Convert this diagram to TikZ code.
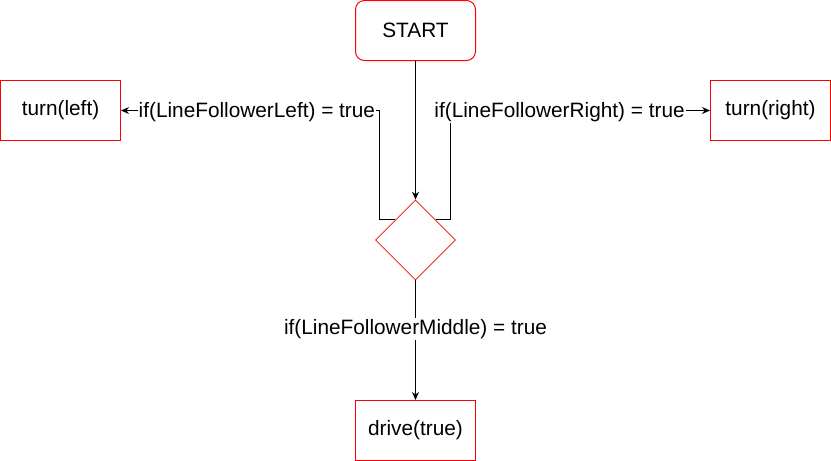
\documentclass[tikz,border=0pt]{standalone}
\usepackage{fontspec}
\setmainfont{Liberation Sans}
\usetikzlibrary{shapes.geometric,arrows.meta}

\begin{document}
\begin{tikzpicture}[x=1pt,y=-1pt,
    font=\fontsize{20.8}{24}\selectfont,
    box/.style={draw=red,line width=1pt,minimum width=120pt,minimum height=60pt,inner sep=0pt},
    cond/.style={draw=red,shape=diamond,line width=0.6pt,minimum width=80pt,minimum height=80pt,inner sep=0pt},
    lbl/.style={fill=white,inner sep=1pt,yshift=-2pt},
    >={Stealth[length=8pt,width=7pt]},line width=1pt]
  \useasboundingbox (0,0) rectangle (831,461);
  % boxes
  \node[box,rounded corners=9pt] (start) at (415.5,30.5) {START};
  \node[cond] (check) at (415.5,240) {};
  \node[box] (left) at (60.5,110.5) {turn(left)};
  \node[box] (right) at (770.5,110.5) {turn(right)};
  \node[box] (drive) at (415.5,430.5) {drive(true)};
  % connectors
  \draw[->] (start) -- (check);
  \draw[->] (check.north west) -- ++(-16,0) |- node[lbl,pos=0.737] (lblleft) {if(LineFollowerLeft) = true} (left);
  \draw[->] (check.north east) -- ++(15,0) |- node[lbl,pos=0.71] (lblright) {if(LineFollowerRight) = true} (right);
  \draw[->] (check) -- node[lbl,pos=0.39] (lblmid) {if(LineFollowerMiddle) = true} (drive);
\end{tikzpicture}
\end{document}
